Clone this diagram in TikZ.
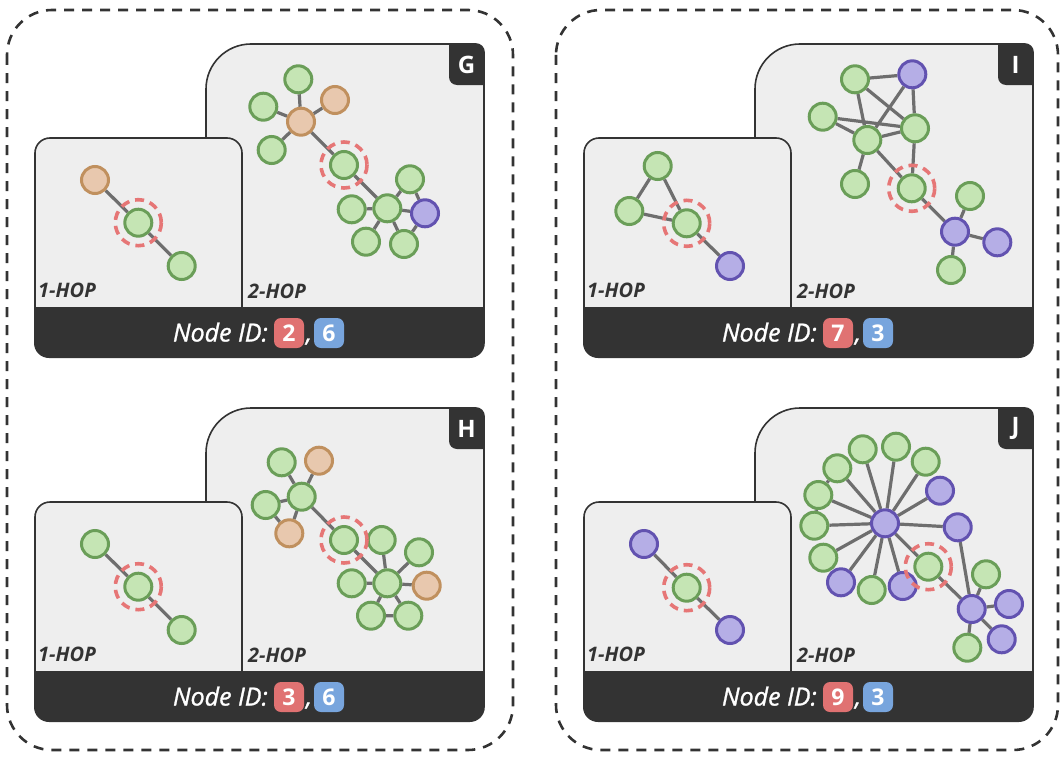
\documentclass[tikz,border=0pt]{standalone}
\usepackage{fontspec}
\setmainfont{Open Sans}
\newfontfamily\idfont[ItalicFeatures={FakeBold=1.2}]{Open Sans}
\definecolor{gfill}{HTML}{C5E5B4}
\definecolor{gdraw}{HTML}{6A9E58}
\definecolor{ofill}{HTML}{E8C8AE}
\definecolor{odraw}{HTML}{C0905E}
\definecolor{pfill}{HTML}{B5AEE6}
\definecolor{pdraw}{HTML}{6252B0}
\definecolor{edgec}{HTML}{6E6E6E}
\definecolor{ringc}{HTML}{E67676}
\definecolor{boxfill}{HTML}{EEEEEE}
\definecolor{darkc}{HTML}{333333}
\definecolor{redb}{HTML}{E07272}
\definecolor{blueb}{HTML}{78A5DD}
\pgfdeclarelayer{boxlayer}
\pgfdeclarelayer{edgelayer}
\pgfsetlayers{boxlayer,edgelayer,main}
\tikzset{
  gn/.style={circle, inner sep=0pt, minimum size=27pt, line width=3pt, draw=gdraw, fill=gfill},
  on/.style={gn, draw=odraw, fill=ofill},
  pn/.style={gn, draw=pdraw, fill=pfill},
  ed/.style={draw=edgec, line width=3.2pt},
  ring/.style={draw=ringc, line width=3.6pt, dash pattern=on 9pt off 6pt},
  boxline/.style={draw=darkc, line width=1.6pt, fill=boxfill},
  outerbox/.style={draw=darkc, line width=2.6pt, dash pattern=on 10pt off 8pt, rounded corners=45pt},
  hop/.style={font=\fontsize{20}{20}\selectfont\bfseries\itshape, text=darkc, inner sep=0pt, anchor=base west},
  letter/.style={font=\fontsize{24}{24}\selectfont\bfseries, text=white, inner sep=0pt},
  idtext/.style={font=\fontsize{25}{25}\selectfont\idfont\itshape, text=white, inner sep=0pt, anchor=base east},
  commatext/.style={font=\fontsize{25}{25}\selectfont\idfont\itshape, text=white, inner sep=0pt, anchor=base},
  badge/.style={font=\fontsize{23}{23}\selectfont\bfseries, text=white, inner sep=0pt, minimum width=30pt, minimum height=30pt, rounded corners=7pt},
}
\newcommand\panelframe[4]{%
  \begin{pgfonlayer}{boxlayer}
    \draw[boxline] (206,308) -- (206,89) arc[start angle=180,end angle=270,radius=45] -- (476,44) arc[start angle=270,end angle=360,radius=8] -- (484,308) -- cycle;
    \fill[darkc] (449,44) -- (476,44) arc[start angle=270,end angle=360,radius=8] -- (484,85) -- (457,85) arc[start angle=90,end angle=180,radius=8] -- cycle;
    \draw[boxline] (35,308) -- (35,153) arc[start angle=180,end angle=270,radius=15] -- (227,138) arc[start angle=270,end angle=360,radius=15] -- (242,308) -- cycle;
    \fill[darkc] (34,308) -- (484.8,308) -- (484.8,343) arc[start angle=0,end angle=90,radius=15] -- (49,358) arc[start angle=90,end angle=180,radius=15] -- cycle;
  \end{pgfonlayer}
  \node[hop] (#1one) at (38,297) {1-HOP};
  \node[hop] (#1two) at (248,298) {2-HOP};
  \node[letter] (#1let) at (466.5,64.5) {#2};
  \node[idtext] (#1id) at (268,341.5) {Node ID:};
  \node[badge, fill=redb] (#1r) at (289,333) {#3};
  \node[commatext] (#1c) at (309,341.5) {,};
  \node[badge, fill=blueb] (#1b) at (329,333) {#4};
}
\begin{document}
\begin{tikzpicture}[x=1pt,y=-1pt]
\useasboundingbox (0,0) rectangle (1062,760);
\draw[outerbox] (7,10) rectangle (513,750);
\draw[outerbox] (556,10) rectangle (1058,750);

\begin{scope}\panelframe{G}{G}{2}{6}\end{scope}
\begin{scope}[shift={(0,364)}]\panelframe{H}{H}{3}{6}\end{scope}
\begin{scope}[shift={(549,0)}]\panelframe{I}{I}{7}{3}\end{scope}
\begin{scope}[shift={(549,364)}]\panelframe{J}{J}{9}{3}\end{scope}

% ---------- G ----------
\node[on] (g1a) at (95,180) {};
\node[gn] (g1t) at (138.3,222.7) {};
\node[gn] (g1b) at (181.7,266) {};
\node[gn] (g2a) at (298.3,79.3) {};
\node[gn] (g2b) at (263.3,106.7) {};
\node[on] (g2h) at (301,121.7) {};
\node[on] (g2o) at (335,100) {};
\node[gn] (g2c) at (271.7,150) {};
\node[gn] (g2t) at (344,165) {};
\node[gn] (g2r) at (387.3,208.3) {};
\node[gn] (g2d) at (410,179.3) {};
\node[pn] (g2p) at (425,213.3) {};
\node[gn] (g2e) at (351.7,209.3) {};
\node[gn] (g2f) at (366,241.7) {};
\node[gn] (g2g) at (404,244) {};

% ---------- H ----------
\node[gn] (h1a) at (95,544) {};
\node[gn] (h1t) at (138.3,586.7) {};
\node[gn] (h1b) at (181.7,630) {};
\node[gn] (h2a) at (281.7,462.3) {};
\node[on] (h2o) at (319,460.7) {};
\node[gn] (h2h) at (301.7,496.7) {};
\node[gn] (h2b) at (265.7,505) {};
\node[on] (h2q) at (289.3,533.3) {};
\node[gn] (h2t) at (344,540) {};
\node[gn] (h2u) at (381.7,540) {};
\node[gn] (h2v) at (419,552.3) {};
\node[gn] (h2r) at (387.3,583.3) {};
\node[gn] (h2e) at (351.7,583.3) {};
\node[on] (h2w) at (426.7,585.7) {};
\node[gn] (h2f) at (371,615.7) {};
\node[gn] (h2g) at (408.3,615.7) {};

% ---------- I ----------
\node[gn] (i1a) at (657.7,166) {};
\node[gn] (i1b) at (629.3,211) {};
\node[gn] (i1t) at (686.7,223.3) {};
\node[pn] (i1p) at (730,266) {};
\node[gn] (i2a) at (855,79.3) {};
\node[pn] (i2p) at (912.3,74.3) {};
\node[gn] (i2b) at (822.7,116.7) {};
\node[gn] (i2h) at (867.3,140) {};
\node[gn] (i2r) at (915,128.3) {};
\node[gn] (i2c) at (855,184) {};
\node[gn] (i2t) at (911.7,188.3) {};
\node[pn] (i2q) at (955,231.7) {};
\node[gn] (i2d) at (970,196) {};
\node[pn] (i2s) at (997.3,242.3) {};
\node[gn] (i2e) at (951,270) {};

% ---------- J ----------
\node[pn] (j1a) at (644,544) {};
\node[gn] (j1t) at (686.7,587.7) {};
\node[pn] (j1b) at (730,630) {};
\node[pn] (j2h) at (885,523.3) {};
\node[gn] (j2a) at (862.7,449.3) {};
\node[gn] (j2b) at (896,446.7) {};
\node[gn] (j2c) at (925.7,461.7) {};
\node[pn] (j2d) at (940,490.7) {};
\node[pn] (j2e) at (957.7,527.3) {};
\node[gn] (j2f) at (837.3,468.3) {};
\node[gn] (j2g) at (818.3,495) {};
\node[gn] (j2i) at (814.3,525.7) {};
\node[gn] (j2k) at (823.3,557.7) {};
\node[pn] (j2l) at (841,582.3) {};
\node[gn] (j2m) at (871.7,590) {};
\node[pn] (j2n) at (902.7,586) {};
\node[gn] (j2t) at (928.3,566.7) {};
\node[pn] (j2q) at (971.7,609) {};
\node[gn] (j2o) at (986,574.3) {};
\node[pn] (j2s) at (1009,604) {};
\node[pn] (j2u) at (1001.7,639.3) {};
\node[gn] (j2v) at (967.3,647.7) {};

\begin{pgfonlayer}{edgelayer}
\draw[ed] (g1a)--(g1t) (g1t)--(g1b)
  (g2h)--(g2a) (g2h)--(g2b) (g2h)--(g2o) (g2h)--(g2c) (g2h)--(g2t) (g2t)--(g2r)
  (g2r)--(g2d) (g2r)--(g2p) (g2r)--(g2e) (g2r)--(g2f) (g2r)--(g2g) (g2d)--(g2p) (g2p)--(g2g);
\draw[ed] (h1a)--(h1t) (h1t)--(h1b)
  (h2h)--(h2a) (h2h)--(h2o) (h2h)--(h2b) (h2h)--(h2q) (h2b)--(h2q) (h2h)--(h2t) (h2t)--(h2r)
  (h2r)--(h2u) (h2r)--(h2v) (h2r)--(h2w) (h2r)--(h2e) (h2r)--(h2f) (h2r)--(h2g) (h2f)--(h2g);
\draw[ed] (i1a)--(i1b) (i1a)--(i1t) (i1b)--(i1t) (i1t)--(i1p)
  (i2a)--(i2p) (i2a)--(i2h) (i2a)--(i2r) (i2p)--(i2h) (i2p)--(i2r) (i2b)--(i2h) (i2b)--(i2r)
  (i2h)--(i2r) (i2h)--(i2c) (i2h)--(i2t) (i2r)--(i2t) (i2t)--(i2q) (i2q)--(i2d) (i2q)--(i2s) (i2q)--(i2e);
\draw[ed] (j1a)--(j1t) (j1t)--(j1b)
  (j2h)--(j2a) (j2h)--(j2b) (j2h)--(j2c) (j2h)--(j2d) (j2h)--(j2e) (j2h)--(j2f) (j2h)--(j2g)
  (j2h)--(j2i) (j2h)--(j2k) (j2h)--(j2l) (j2h)--(j2m) (j2h)--(j2n) (j2h)--(j2t)
  (j2f)--(j2g) (j2g)--(j2i) (j2e)--(j2q) (j2t)--(j2q) (j2q)--(j2o) (j2q)--(j2s) (j2q)--(j2u) (j2q)--(j2v);
\end{pgfonlayer}

\draw[ring] (g1t) circle[radius=23];
\draw[ring] (g2t) circle[radius=23];
\draw[ring] (h1t) circle[radius=23];
\draw[ring] (h2t) circle[radius=23];
\draw[ring] (i1t) circle[radius=23];
\draw[ring] (i2t) circle[radius=23];
\draw[ring] (j1t) circle[radius=23];
\draw[ring] (j2t) circle[radius=23];
\end{tikzpicture}
\end{document}
